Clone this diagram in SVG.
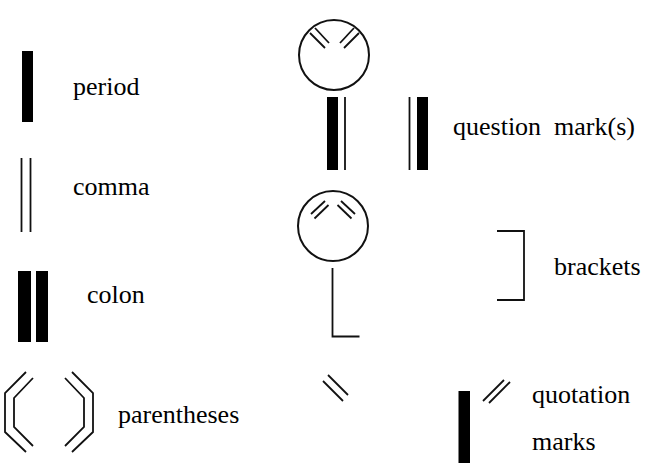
<svg xmlns="http://www.w3.org/2000/svg" width="649" height="469" viewBox="0 0 649 469">
<style>
.bar{fill:#000}
.ln{fill:none;stroke:#111;stroke-width:1.8;stroke-linecap:butt}
.circ{fill:none;stroke:#111;stroke-width:2}
</style>
<rect width="649" height="469" fill="#fff"/>
<g id="period">
<rect class="bar" x="22" y="51" width="11" height="71"/>
<text x="73" y="95" font-family="Liberation Serif" font-size="26">period</text>
</g>
<g id="comma">
<line class="ln" x1="21.5" y1="158" x2="21.5" y2="232"/>
<line class="ln" x1="30.5" y1="158" x2="30.5" y2="232"/>
<text x="73" y="195" font-family="Liberation Serif" font-size="26">comma</text>
</g>
<g id="colon">
<rect class="bar" x="18" y="271" width="13" height="71"/>
<rect class="bar" x="36" y="271" width="12" height="71"/>
<text x="87" y="303" font-family="Liberation Serif" font-size="26">colon</text>
</g>
<g id="parentheses">
<polyline class="ln" points="26,372 5,393 5,432 26,452"/>
<polyline class="ln" points="33,378 14,398 14,427 33,446"/>
<polyline class="ln" points="72,372 93,393 93,432 72,452"/>
<polyline class="ln" points="65,378 84,398 84,427 65,446"/>
<text x="118" y="423" font-family="Liberation Serif" font-size="26">parentheses</text>
</g>
<g id="question-marks">
<circle class="circ" cx="334" cy="55" r="35"/>
<line class="ln" x1="315" y1="28" x2="329" y2="43"/>
<line class="ln" x1="310" y1="33" x2="325" y2="48"/>
<line class="ln" x1="354" y1="28" x2="340" y2="43"/>
<line class="ln" x1="359" y1="33" x2="344" y2="48"/>
<rect class="bar" x="327" y="97" width="11" height="73"/>
<line class="ln" x1="345" y1="97" x2="345" y2="170"/>
<line class="ln" x1="409.5" y1="97" x2="409.5" y2="170"/>
<rect class="bar" x="417" y="97" width="11" height="73"/>
<text x="453" y="135" font-family="Liberation Serif" font-size="26" xml:space="preserve">question  mark(s)</text>
</g>
<g id="brackets">
<circle class="circ" cx="333" cy="226" r="35"/>
<line class="ln" x1="325" y1="201" x2="311" y2="214"/>
<line class="ln" x1="328.5" y1="205" x2="314.5" y2="218.5"/>
<line class="ln" x1="341" y1="201" x2="355" y2="214"/>
<line class="ln" x1="337.5" y1="205" x2="351.5" y2="218.5"/>
<polyline class="ln" points="332.5,268 332.5,336.5 359.5,336.5"/>
<polyline class="ln" points="497,231 524,231 524,300 497,300"/>
<text x="554" y="275" font-family="Liberation Serif" font-size="26">brackets</text>
</g>
<g id="quotation-marks">
<line class="ln" x1="328" y1="375" x2="348" y2="395"/>
<line class="ln" x1="323" y1="381" x2="343" y2="401"/>
<rect class="bar" x="458.5" y="391" width="11.5" height="72"/>
<line class="ln" x1="483" y1="401" x2="504" y2="380"/>
<line class="ln" x1="489" y1="403" x2="510" y2="382"/>
<text x="532" y="403" font-family="Liberation Serif" font-size="26">quotation</text>
<text x="532" y="450" font-family="Liberation Serif" font-size="26">marks</text>
</g>
</svg>
